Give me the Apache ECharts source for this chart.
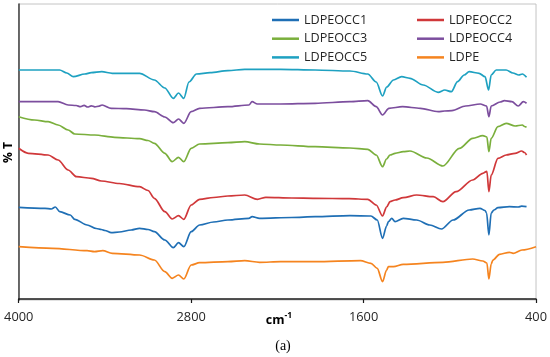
<!DOCTYPE html>
<html>
<head>
<meta charset="utf-8">
<script src="https://cdn.jsdelivr.net/npm/echarts@6/dist/echarts.min.js"></script>
<style>html,body{margin:0;padding:0;background:#fff}#c{width:550px;height:357px}</style>
</head>
<body>
<div id="c"></div>
<script>
// x tick labels (wavenumber, cm-1)
const xTicks = [4000, 2800, 1600, 400];
const seriesNames = ['LDPEOCC1', 'LDPEOCC2', 'LDPEOCC3', 'LDPEOCC4', 'LDPEOCC5', 'LDPE'];
// [wavenumber, % T (arbitrary offset units)]
const LDPEOCC1 = [[4000,91.7],[3817,90.7],[3773,90],[3745,92],[3714,87.3],[3641,84],[3610,79.7],[3524,74],[3460,70.5],[3425,69.5],[3400,68.5],[3356,66.3],[3300,67],[3217,69],[3159,70.7],[3100,69.5],[3056,67.3],[2983,59],[2924,51.3],[2888,56.3],[2851,52.3],[2800,67.3],[2741,74],[2644,77],[2544,79],[2398,80.7],[2376,82.3],[2324,80.7],[2100,81.5],[1937,82.3],[1695,83.3],[1549,83],[1505,79],[1468,60.7],[1440,73],[1427,77.3],[1404,80.7],[1381,77.3],[1324,80.7],[1231,79],[1139,74],[1058,70],[977,79],[865,89],[790,90.7],[755,88.5],[744,86],[728,64],[712,86],[693,89],[665,91.3],[585,92.3],[524,92],[500,92.8],[466,92.3]];
const LDPEOCC2 = [[4000,150.7],[3933,145.7],[3795,144],[3726,139],[3656,129],[3598,122.3],[3494,120.7],[3425,118],[3300,115.5],[3159,112.3],[3100,108.5],[3056,100.7],[2983,87.3],[2932,80],[2888,83.3],[2851,79.7],[2800,94],[2741,99.7],[2644,101.5],[2544,103],[2427,104],[2339,99.7],[2280,101.7],[2100,101],[1937,100.7],[1700,100.3],[1571,99.7],[1512,94],[1468,83],[1440,92],[1416,97.3],[1381,99],[1324,101.3],[1231,104],[1115,102.3],[1048,97.3],[956,107.3],[841,119],[770,125.7],[742,127.7],[728,107.3],[712,124],[665,140.7],[608,144],[546,145.7],[500,148],[480,146.5],[466,144]];
const LDPEOCC3 = [[4000,182.3],[3890,179],[3795,177.3],[3726,174],[3656,169],[3610,165],[3471,164],[3333,161.7],[3159,160.3],[3100,158.5],[3056,155.7],[2983,145.7],[2932,137.3],[2888,141.7],[2851,137.3],[2800,150.7],[2741,155],[2544,156.3],[2427,157.3],[2324,155],[2178,154],[1937,152.3],[1695,151],[1571,149.7],[1512,144],[1468,132.3],[1440,140],[1416,144],[1381,145.7],[1324,147.3],[1277,148],[1160,141],[1048,133],[933,150.7],[841,160.7],[770,163.3],[742,162],[728,147.3],[712,160.7],[665,172.3],[608,175.7],[546,173],[495,174],[480,172.5],[466,171.7]];
const LDPEOCC4 = [[4000,197.3],[3726,197.3],[3656,194],[3600,193.5],[3570,192.3],[3545,193.6],[3520,192],[3495,193.2],[3470,192.2],[3440,192.8],[3420,194],[3356,190.7],[3250,190.3],[3125,189],[3056,187.3],[2983,182],[2924,176.3],[2888,180],[2851,175.7],[2800,187.3],[2741,190.7],[2544,192.3],[2398,194],[2376,197.3],[2339,195],[2178,195],[1937,195.7],[1695,197.3],[1571,198.3],[1512,192.3],[1468,184],[1424,190.7],[1329,192.3],[1205,190.7],[1080,187.3],[1037,188],[985,188.3],[890,193],[788,195],[744,193],[728,182.3],[712,193],[650,197],[620,198.3],[568,197.3],[524,193],[488,197.3],[466,195.7]];
const LDPEOCC5 = [[4000,229],[3715,229],[3665,226],[3620,222.3],[3540,225],[3495,226.3],[3422,227.3],[3349,225.7],[3159,225.7],[3056,219],[2983,211],[2924,200.7],[2888,206],[2851,200.7],[2815,217],[2763,225],[2668,226.3],[2544,228.3],[2427,229.7],[2178,229.7],[1937,229],[1695,228],[1571,225],[1512,217],[1468,203],[1439,212],[1392,219],[1335,222.3],[1277,220.7],[1185,214],[1081,206.7],[1035,209],[989,207.3],[946,217.3],[900,224],[865,227.3],[796,225.7],[755,222.3],[730,209],[712,224],[677,229],[608,229],[561,226],[520,224],[495,225],[466,221.7]];
const LDPE = [[4000,52.3],[3766,50.7],[3524,48.3],[3473,47.3],[3415,48.3],[3349,45.7],[3159,44],[3056,39],[2983,27.3],[2932,20.7],[2888,24],[2851,20],[2800,34],[2741,36.3],[2544,37.3],[2427,38.3],[2324,36.7],[2178,37.3],[1937,37.3],[1622,38.3],[1549,35.7],[1505,30.7],[1468,17.3],[1440,29],[1427,32.3],[1392,32.3],[1324,34.7],[1048,36.7],[841,40],[770,38],[742,36],[728,20],[712,35],[700,39],[654,44.7],[585,46.7],[559,45.7],[498,49],[400,52.3]];

const seriesData = [LDPEOCC1, LDPEOCC2, LDPEOCC3, LDPEOCC4, LDPEOCC5, LDPE];
const colors = ['#1f6fb5', '#d0383a', '#7aaf3c', '#7c4e9e', '#1ea1c1', '#f5841f'];

const chart = echarts.init(document.getElementById('c'), null, {renderer: 'canvas'});
const FONT = '"Open Sans", "Liberation Sans", sans-serif';
const legendCommon = {
  orient: 'vertical', top: 7.5, icon: 'rect', itemWidth: 27, itemHeight: 2.5, itemGap: 3.7,
  textStyle: {fontFamily: FONT, fontSize: 12.6, lineHeight: 15, color: '#262626'},
  selectedMode: false
};
chart.setOption({
  animation: false,
  color: colors,
  grid: {left: 18.7, right: 11.7, top: 4, height: 296, show: true, borderColor: '#c4c4c4', borderWidth: 1, backgroundColor: 'transparent'},
  legend: [
    Object.assign({}, legendCommon, {left: 267, data: [seriesNames[0], seriesNames[2], seriesNames[4]]}),
    Object.assign({}, legendCommon, {left: 412, data: [seriesNames[1], seriesNames[3], seriesNames[5]]})
  ],
  xAxis: {
    type: 'value', min: 400, max: 4000, inverse: true,
    axisLine: {show: true, lineStyle: {color: '#1a1a1a', width: 1.5}},
    axisTick: {show: true, inside: false, length: 4, customValues: xTicks, lineStyle: {color: '#1a1a1a', width: 1.2}},
    axisLabel: {show: true, customValues: xTicks, margin: 11, fontFamily: FONT, fontSize: 12.8, color: '#262626',
      formatter: v => String(v)},
    splitLine: {show: false}
  },
  yAxis: {
    type: 'value', min: -1, max: 295,
    axisLine: {show: true, lineStyle: {color: '#404040', width: 1.5}},
    axisTick: {show: false}, axisLabel: {show: false}, splitLine: {show: false}
  },
  graphic: [
    {type: 'text', x: 9, y: 152.5, rotation: Math.PI / 2,
     style: {text: '% T', font: 'bold 12px ' + FONT, fill: '#000', textAlign: 'center', textVerticalAlign: 'middle'}},
    {type: 'text', x: 279, y: 319,
     style: {text: '{a|cm}{b|-1}', textAlign: 'center', textVerticalAlign: 'middle',
       rich: {a: {fontFamily: FONT, fontWeight: 'bold', fontSize: 12.5, fill: '#000', lineHeight: 15, verticalAlign: 'bottom'},
              b: {fontFamily: FONT, fontWeight: 'bold', fontSize: 8.5, fill: '#000', lineHeight: 15, verticalAlign: 'top'}}}},
    {type: 'text', x: 283, y: 346,
     style: {text: '(a)', font: '14px "Liberation Serif", serif', fill: '#000', textAlign: 'center', textVerticalAlign: 'middle'}}
  ],
  series: seriesNames.map((n, i) => ({
    name: n, type: 'line', data: seriesData[i], showSymbol: false, symbol: 'none',
    smooth: 0.3, smoothMonotone: 'x',
    lineStyle: {width: 1.7, color: colors[i]}, itemStyle: {color: colors[i]}
  }))
});
</script>
</body>
</html>
